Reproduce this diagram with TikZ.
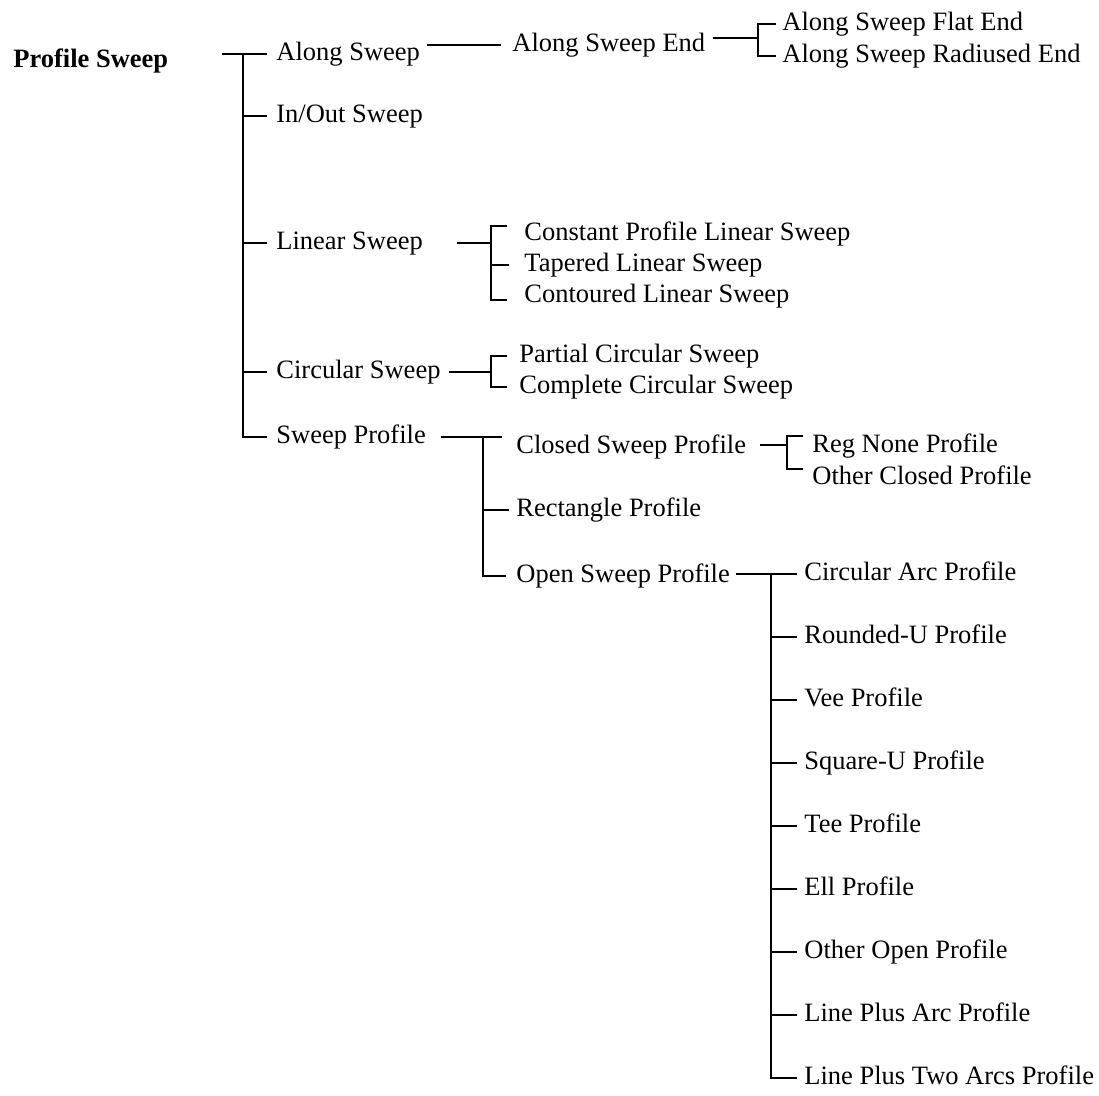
\documentclass[tikz,border=0pt]{standalone}
\usepackage{fontspec}
\setmainfont{Liberation Serif}

\begin{document}
\begin{tikzpicture}[
    x=1pt, y=-1pt,
    item/.style={anchor=west, inner sep=0pt, text height=18pt, text depth=6pt},
    top/.style={item, font=\fontsize{26.5}{31}\selectfont\bfseries},
    font=\fontsize{26.5}{31}\selectfont,
    line width=2.8pt
]
    \useasboundingbox (0,0) rectangle (1099,1095);

    % 根节点与第一层
    \node[top]  (PS)  at (12, 61)  {Profile Sweep};
    \node[item] (AS)  at (275, 54) {Along Sweep};
    \node[item] (IO)  at (275, 116) {In/Out Sweep};
    \node[item] (LS)  at (275, 243) {Linear Sweep};
    \node[item] (CS)  at (275, 372) {Circular Sweep};
    \node[item] (SP)  at (275, 437) {Sweep Profile};

    % Along Sweep 分支
    \node[item] (ASE) at (511, 45) {Along Sweep End};
    \node[item] (FE)  at (781, 24) {Along Sweep Flat End};
    \node[item] (RE)  at (781, 56) {Along Sweep Radiused End};

    % Linear Sweep 分支
    \node[item] (CP)  at (523, 234) {Constant Profile Linear Sweep};
    \node[item] (TL)  at (523, 265) {Tapered Linear Sweep};
    \node[item] (CL)  at (523, 296) {Contoured Linear Sweep};

    % Circular Sweep 分支
    \node[item] (PC)  at (518, 356) {Partial Circular Sweep};
    \node[item] (CC)  at (518, 387) {Complete Circular Sweep};

    % Sweep Profile 分支
    \node[item] (CSP) at (515, 447) {Closed Sweep Profile};
    \node[item] (RP)  at (515, 510) {Rectangle Profile};
    \node[item] (OSP) at (515, 576) {Open Sweep Profile};
    \node[item] (RN)  at (811, 446) {Reg None Profile};
    \node[item] (OC)  at (811, 478) {Other Closed Profile};

    % Open Sweep Profile 分支
    \node[item] (O0)  at (803, 574)  {Circular Arc Profile};
    \node[item] (O1)  at (803, 637)  {Rounded-U Profile};
    \node[item] (O2)  at (803, 700)  {Vee Profile};
    \node[item] (O3)  at (803, 763)  {Square-U Profile};
    \node[item] (O4)  at (803, 826)  {Tee Profile};
    \node[item] (O5)  at (803, 889)  {Ell Profile};
    \node[item] (O6)  at (803, 952)  {Other Open Profile};
    \node[item] (O7)  at (803, 1015) {Line Plus Arc Profile};
    \node[item] (O8)  at (803, 1078) {Line Plus Two Arcs Profile};

    % 分叉点
    \coordinate (jPS)   at (243, 54);
    \coordinate (jASE)  at (758, 38);
    \coordinate (jLS)   at (491, 243);
    \coordinate (jLSt)  at (491, 226);
    \coordinate (jLSb)  at (491, 300);
    \coordinate (jCS)   at (491, 372);
    \coordinate (jSP)   at (483, 438);
    \coordinate (jCSP)  at (787, 445);
    \coordinate (jCSPt) at (787, 436);
    \coordinate (jCSPb) at (787, 469);
    \coordinate (jOSP)  at (771, 574);

    % 1. 根节点的主干
    \draw[shorten <=52pt, shorten >=8pt] (PS.east |- AS.west) -- (AS.west);
    \draw[shorten >=8pt] (jPS) |- (SP.west);
    \draw[shorten >=8pt] (jPS |- IO.west) -- (IO.west);
    \draw[shorten >=8pt] (jPS |- LS.west) -- (LS.west);
    \draw[shorten >=8pt] (jPS |- CS.west) -- (CS.west);

    % 2. Along Sweep 的连线
    \draw[shorten <=6pt, shorten >=10pt] (AS.east |- ASE.west) -- (ASE.west);
    \draw[shorten <=6pt] (ASE.east |- jASE) -- (jASE);
    \draw[shorten <=5pt, shorten >=5pt] (FE.west) -| (jASE) |- (RE.west);

    % 3. Linear Sweep 的括号
    \draw[shorten <=33pt] (LS.east) -- (jLS);
    \draw[shorten <=16pt, shorten >=16pt] (CP.west |- jLSt) -- (jLSt) -- (jLSb) -- (CL.west |- jLSb);
    \draw[shorten >=14pt] (jLS |- TL.west) -- (TL.west);

    % 4. Circular Sweep 的括号
    \draw[shorten <=7pt] (CS.east) -- (jCS);
    \draw[shorten <=11pt, shorten >=11pt] (PC.west) -| (jCS) |- (CC.west);

    % 5. Sweep Profile 的连线
    \draw[shorten <=14pt, shorten >=13pt] (SP.east) -- (CSP.west |- SP.east);
    \draw[shorten >=9pt] (jSP) |- (OSP.west);
    \draw[shorten >=6pt] (jSP |- RP.west) -- (RP.west);

    % 6. Closed Sweep Profile 的括号
    \draw[shorten <=13pt] (CSP.east |- jCSP) -- (jCSP);
    \draw[shorten <=8pt, shorten >=8pt] (RN.west |- jCSPt) -- (jCSPt) -- (jCSPb) -- (OC.west |- jCSPb);

    % 7. Open Sweep Profile 的主干
    \draw[shorten <=5pt, shorten >=6pt] (OSP.east |- O0.west) -- (O0.west);
    \draw[shorten >=6pt] (jOSP) |- (O8.west);
    \draw[shorten >=6pt] (jOSP |- O1.west) -- (O1.west);
    \draw[shorten >=6pt] (jOSP |- O2.west) -- (O2.west);
    \draw[shorten >=6pt] (jOSP |- O3.west) -- (O3.west);
    \draw[shorten >=6pt] (jOSP |- O4.west) -- (O4.west);
    \draw[shorten >=6pt] (jOSP |- O5.west) -- (O5.west);
    \draw[shorten >=6pt] (jOSP |- O6.west) -- (O6.west);
    \draw[shorten >=6pt] (jOSP |- O7.west) -- (O7.west);

\end{tikzpicture}
\end{document}
